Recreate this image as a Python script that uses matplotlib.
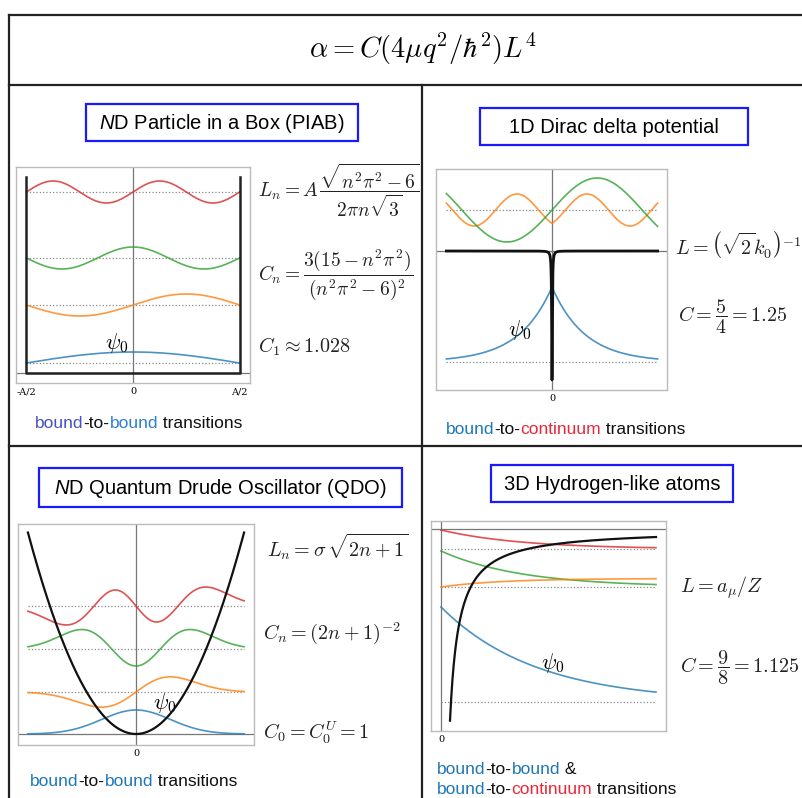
import numpy as np
import matplotlib
matplotlib.use('Agg')
import matplotlib.pyplot as plt
from matplotlib.patches import Rectangle

# ---------------- data (pixel-like units) ----------------
# Panel 1: particle in a box (x in box widths, y above box floor)
piab_levels = [10, 68, 115, 181]
piab_amps = [11, 11, 11, 11]
piab_signs = [1, -1, -1, 1]
piab_wall_height = 196
piab_ticks = [-0.5, 0.0, 0.5]
piab_ticklabels = ['-A/2', '0', 'A/2']

# Panel 2: Dirac delta (x in decay lengths, y relative to V=0)
dirac_bound_level = -111
dirac_bound_amp = 75
dirac_cont_level = 41
dirac_even_amp, dirac_even_k, dirac_even_phase = 16, 2.41, 3.73
dirac_odd_amp, dirac_odd_k = 32, 1.15
dirac_depth = 129
dirac_width = 0.012
dirac_xmax = 3.2

# Panel 3: QDO (x in oscillator lengths, y above potential minimum)
qdo_levels = [0, 42, 85, 128]
qdo_amps = [24, 25, 17, 14]
qdo_curv = 20.3
qdo_xmax = 3.15

# Panel 4: hydrogen-like (r and y in pixel-like units)
h_levels = [-173, -58, -58, -20]        # blue, orange, green, red dotted levels
h_start = [95, 0, 36, 19]               # offset from level at r = 0
h_decay = [95, 60, 80, 80]
h_orange_rise = 8.5
h_coulomb = 1725
h_rmax = 215

colors = ['#1f77b4', '#ff7f0e', '#2ca02c', '#d62728']

# ---------------- figure ----------------
W, H = 803, 798
plt.rcParams['mathtext.fontset'] = 'cm'
plt.rcParams['mathtext.rm'] = 'Liberation Sans'
plt.rcParams['mathtext.it'] = 'Liberation Sans:italic'
SANS = 'Liberation Sans'

fig = plt.figure(figsize=(W / 100, H / 100), dpi=100)
ov = fig.add_axes([0, 0, 1, 1])
ov.set_xlim(0, W)
ov.set_ylim(H, 0)
ov.axis('off')

def rect(x0, y0, x1, y1):
    return [x0 / W, 1 - y1 / H, (x1 - x0) / W, (y1 - y0) / H]

# frame lines
fc = '#222222'
flw = 1.6
ov.plot([9, W], [15, 15], color=fc, lw=flw)
ov.plot([9, 9], [15, H], color=fc, lw=flw)
ov.plot([9, W], [85, 85], color=fc, lw=flw)
ov.plot([9, W], [446, 446], color=fc, lw=flw)
ov.plot([422, 422], [85, H], color=fc, lw=flw)

ov.text(423, 49, r'$\alpha = C(4\mu q^2/\hbar^2)L^4$', fontsize=20.5,
        ha='center', va='center')

# title boxes
titles = [
    ((86, 104, 358, 141), r'$N$D Particle in a Box (PIAB)'),
    ((480, 108, 748, 145), '1D Dirac delta potential'),
    ((39, 468, 402, 507), r'$N$D Quantum Drude Oscillator (QDO)'),
    ((491, 465, 733, 502), '3D Hydrogen-like atoms'),
]
for (x0, y0, x1, y1), s in titles:
    ov.add_patch(Rectangle((x0, y0), x1 - x0, y1 - y0, fill=False,
                           edgecolor='#1a1aff', lw=1.6))
    ov.text((x0 + x1) / 2, (y0 + y1) / 2 + 1, s, fontsize=14.5, family=SANS,
            math_fontfamily='custom', ha='center', va='center')

# equations
eqs = [
    (258, 190, r'$L_n = A\,\dfrac{\sqrt{n^2\pi^2-6}}{2\pi n\sqrt{3}}$', 14),
    (258, 275, r'$C_n = \dfrac{3(15-n^2\pi^2)}{(n^2\pi^2-6)^2}$', 14),
    (258, 347, r'$C_1 \approx 1.028$', 14.5),
    (675, 245, r'$L = \left(\sqrt{2}k_0\right)^{-1}$', 14.5),
    (678, 317, r'$C = \dfrac{5}{4} = 1.25$', 14.5),
    (267, 547, r'$L_n = \sigma\,\sqrt{2n+1}$', 14.5),
    (263, 633, r'$C_n = (2n+1)^{-2}$', 14.5),
    (263, 733, r'$C_0 = C_0^U = 1$', 14.5),
    (680, 588, r'$L = a_\mu/Z$', 14.5),
    (680, 668, r'$C = \dfrac{9}{8} = 1.125$', 14.5),
]
for x, y, s, fs in eqs:
    ov.text(x, y, s, fontsize=fs, ha='left', va='center', color='#222222')

# captions (multi-coloured)
def rainbow(x, y, parts, fs=12.5):
    t = ov.text(x, y, parts[0][0], color=parts[0][1], fontsize=fs,
                family=SANS, ha='left', va='center')
    for s, c in parts[1:]:
        t = ov.annotate(s, xy=(1, 0), xycoords=t, va='bottom', ha='left',
                        color=c, fontsize=fs, family=SANS)

BLUE1, BLUE2, BLUE, RED, BLK = '#4650c0', '#2f7fd0', '#1f77b4', '#e8283a', '#111111'
rainbow(35, 423, [('bound', BLUE1), ('-to-', BLK), ('bound', BLUE2), (' transitions', BLK)])
rainbow(446, 430, [('bound', BLUE), ('-to-', BLK), ('continuum', RED), (' transitions', BLK)])
rainbow(30, 782, [('bound', BLUE), ('-to-', BLK), ('bound', BLUE), (' transitions', BLK)])
rainbow(437, 770, [('bound', BLUE), ('-to-', BLK), ('bound', BLUE), (' &', BLK)])
rainbow(437, 790, [('bound', BLUE), ('-to-', BLK), ('continuum', RED), (' transitions', BLK)])

def style_axes(ax, ticks, labels):
    for sp in ax.spines.values():
        sp.set_color('#bbbbbb')
        sp.set_linewidth(1.0)
    ax.set_xticks(ticks)
    ax.set_xticklabels(labels, fontsize=7, family='DejaVu Serif')
    ax.set_yticks([])
    ax.tick_params(axis='x', length=0, pad=3)

GRAY = '#777777'
clw = 1.2
calpha = 0.8
psi = r'$\psi_0$'
PSI_FS = 16

# ---------------- Panel 1: PIAB ----------------
ax1 = fig.add_axes(rect(16, 167, 250, 383))
ax1.set_xlim(-0.549, 0.549)
ax1.set_ylim(-10, 206)
x = np.linspace(-0.5, 0.5, 500)
ax1.axvline(0, color=GRAY, lw=0.9, zorder=1)
ax1.axhline(0, color=GRAY, lw=0.9, zorder=1)
for n, (lev, amp, sg) in enumerate(zip(piab_levels, piab_amps, piab_signs), start=1):
    ax1.plot([-0.5, 0.5], [lev, lev], color='#888888', lw=0.9, ls=':', zorder=2)
    ax1.plot(x, lev + sg * amp * np.sin(n * np.pi * (x + 0.5)), color=colors[n - 1],
             lw=clw, alpha=calpha, zorder=3)
ax1.plot([-0.5, -0.5, 0.5, 0.5], [piab_wall_height, 0, 0, piab_wall_height],
         color='#222222', lw=1.8, zorder=4)
ax1.text(-0.075, 30, psi, fontsize=PSI_FS, ha='center', va='center')
style_axes(ax1, piab_ticks, piab_ticklabels)

# ---------------- Panel 2: Dirac delta ----------------
ax2 = fig.add_axes(rect(436, 169, 667, 390))
ax2.set_xlim(-3.515, 3.485)
ax2.set_ylim(-139, 82)
xd = np.unique(np.concatenate([np.linspace(-dirac_xmax, dirac_xmax, 800),
                               np.linspace(-0.3, 0.3, 1200)]))
ax2.axvline(0, color=GRAY, lw=0.9, zorder=1)
ax2.axhline(0, color=GRAY, lw=0.9, zorder=1)
ax2.plot([-dirac_xmax, dirac_xmax], [dirac_bound_level] * 2, color='#888888', lw=0.9, ls=':')
ax2.plot([-dirac_xmax, dirac_xmax], [dirac_cont_level] * 2, color='#888888', lw=0.9, ls=':')
ax2.plot(xd, dirac_bound_level + dirac_bound_amp * np.exp(-np.abs(xd)),
         color=colors[0], lw=clw, alpha=calpha, zorder=3)
ax2.plot(xd, dirac_cont_level + dirac_even_amp *
         np.cos(dirac_even_k * np.abs(xd) + dirac_even_phase),
         color=colors[1], lw=clw, alpha=calpha, zorder=3)
ax2.plot(xd, dirac_cont_level + dirac_odd_amp * np.sin(dirac_odd_k * xd),
         color=colors[2], lw=clw, alpha=calpha, zorder=3)
ax2.plot(xd, -dirac_depth * dirac_width ** 2 / (xd ** 2 + dirac_width ** 2),
         color='#111111', lw=2.0, zorder=4)
ax2.text(-0.97, -79, psi, fontsize=PSI_FS, ha='center', va='center')
style_axes(ax2, [0], ['0'])

# ---------------- Panel 3: QDO ----------------
ax3 = fig.add_axes(rect(18, 524, 254, 745))
ax3.set_xlim(-3.44, 3.44)
ax3.set_ylim(-11, 210)
xq = np.linspace(-qdo_xmax, qdo_xmax, 600)
g = np.exp(-xq ** 2 / 2)
herm = [np.ones_like(xq), xq, 2 * xq ** 2 - 1, 2 * xq ** 3 - 3 * xq]
ax3.axvline(0, color=GRAY, lw=0.9, zorder=1)
ax3.axhline(0, color=GRAY, lw=0.9, zorder=1)
for i, (lev, amp) in enumerate(zip(qdo_levels, qdo_amps)):
    if lev > 0:
        ax3.plot([-qdo_xmax, qdo_xmax], [lev, lev], color='#888888', lw=0.9, ls=':', zorder=2)
    ax3.plot(xq, lev + amp * herm[i] * g, color=colors[i], lw=clw, alpha=calpha, zorder=3)
ax3.plot(xq, qdo_curv * xq ** 2, color='#111111', lw=1.6, zorder=4)
ax3.text(0.85, 31, psi, fontsize=PSI_FS, ha='center', va='center')
style_axes(ax3, [0], ['0'])

# ---------------- Panel 4: hydrogen-like ----------------
ax4 = fig.add_axes(rect(431, 521, 666, 731))
ax4.set_xlim(-10, 225)
ax4.set_ylim(-202, 8)
r = np.linspace(0, h_rmax, 500)
ax4.axvline(0, color=GRAY, lw=0.9, zorder=1)
ax4.axhline(0, color=GRAY, lw=0.9, zorder=1)
for lev in sorted(set(h_levels)):
    ax4.plot([0, h_rmax], [lev, lev], color='#888888', lw=0.9, ls=':', zorder=2)
for i in [0, 2, 3]:
    ax4.plot(r, h_levels[i] + h_start[i] * np.exp(-r / h_decay[i]), color=colors[i],
             lw=clw, alpha=calpha, zorder=3)
ax4.plot(r, h_levels[1] + h_orange_rise * (1 - np.exp(-r / h_decay[1])), color=colors[1],
         lw=clw, alpha=calpha, zorder=3)
rc = np.linspace(9, h_rmax, 500)
ax4.plot(rc, -h_coulomb / rc, color='#111111', lw=1.6, zorder=4)
ax4.text(112, -134, psi, fontsize=PSI_FS, ha='center', va='center')
style_axes(ax4, [0], ['0'])

fig.savefig('out.png', dpi=100)
